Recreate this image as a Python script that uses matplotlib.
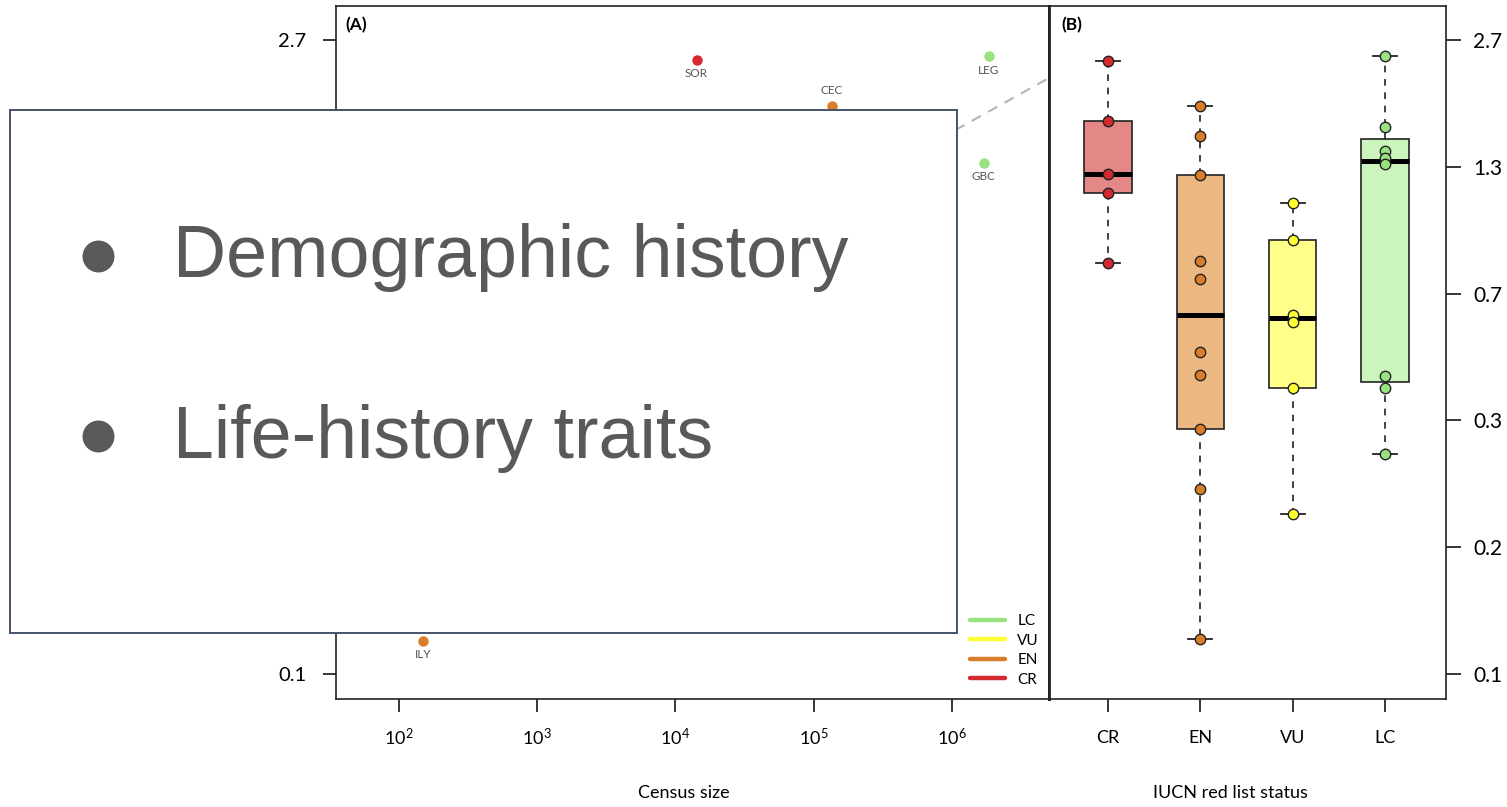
import numpy as np
import matplotlib.pyplot as plt
from matplotlib.lines import Line2D

plt.rcParams['font.family'] = ['Lato', 'DejaVu Sans']
plt.rcParams['mathtext.fontset'] = 'custom'
plt.rcParams['mathtext.rm'] = 'Lato'
plt.rcParams['mathtext.it'] = 'Lato:italic'

# panel A: species left visible around the overlay
species = ['SOR', 'CEC', 'LEG', 'GBC', 'ILY']
census = [1.42e4, 1.35e5, 1.85e6, 1.70e6, 149]
diversity = [2.42, 1.88, 2.47, 1.38, 0.101]
status = ['CR', 'EN', 'LC', 'LC', 'EN']
label_side = ['below', 'above', 'below', 'below', 'below']

# dashed fit: ln(diversity) = a + b * log10(census)
trend_a, trend_b = -2.03, 0.42

# panel B: values per IUCN category
categories = ['CR', 'EN', 'VU', 'LC']
cr_vals = [2.41, 1.73, 1.30, 1.17, 0.797]
en_vals = [1.88, 1.60, 1.29, 0.807, 0.730, 0.491, 0.432, 0.322, 0.232, 0.102]
vu_vals = [1.11, 0.905, 0.600, 0.579, 0.402, 0.2025]
lc_vals = [2.47, 1.68, 1.47, 1.42, 1.37, 0.431, 0.402, 0.281]

ytick_vals = 2.7 / 2.0 ** np.arange(6)
ytick_labels = ['2.7', '1.3', '0.7', '0.3', '0.2', '0.1']
xtick_vals = [1e2, 1e3, 1e4, 1e5, 1e6]
legend_order = ['LC', 'VU', 'EN', 'CR']

bullets = ['Demographic history', 'Life-history traits']

point_col = {'CR': '#d42a2f', 'EN': '#d97d2a', 'VU': '#ffff33', 'LC': '#99e27f'}
box_col = {'CR': '#e38787', 'EN': '#ebb882', 'VU': '#ffff8a', 'LC': '#ccf5be'}


def tukey_stats(vals):
    # same hinges / whiskers as R's boxplot, on the log scale
    x = np.sort(np.log(vals))
    n = len(x)
    n4 = np.floor((n + 3) / 2) / 2
    d = np.array([1, n4, (n + 1) / 2, n + 1 - n4, n]) - 1
    five = 0.5 * (x[np.floor(d).astype(int)] + x[np.ceil(d).astype(int)])
    iqr = five[3] - five[1]
    lo = x[x >= five[1] - 1.5 * iqr].min()
    hi = x[x <= five[3] + 1.5 * iqr].max()
    return dict(med=five[2], q1=five[1], q3=five[3], whislo=lo, whishi=hi, fliers=[])


W, H = 1507, 807
fig = plt.figure(figsize=(W / 100, H / 100), dpi=100)
fig.patch.set_facecolor('white')

ylim = (-2.61, 1.179)

# ---- panel A
axA = fig.add_axes([336 / W, 1 - 699 / H, 713 / W, 693 / H])
axA.set_xscale('log')
axA.set_xlim(34.9, 5.05e6)
axA.set_ylim(*ylim)

xs = np.logspace(1.4, 6.9, 60)
axA.plot(xs, trend_a + trend_b * np.log10(xs), color='#b4b4b4', lw=1.5,
         ls=(0, (5, 4)), zorder=1)

for sp, c, v, st, side in zip(species, census, diversity, status, label_side):
    axA.plot(c, np.log(v), 'o', ms=7.5, color=point_col[st], mec='none', zorder=3)
    dy = -10 if side == 'below' else 11
    axA.annotate(sp, (c, np.log(v)), xytext=(0, dy), textcoords='offset points',
                 ha='center', va='center', fontsize=8.5, color='#555555')

axA.set_xticks(xtick_vals)
axA.set_xticklabels([f'$10^{{{int(np.log10(t))}}}$' for t in xtick_vals])
axA.xaxis.set_minor_locator(plt.NullLocator())
axA.set_yticks(np.log(ytick_vals))
axA.set_yticklabels(ytick_labels)
axA.tick_params(axis='x', length=9, width=1.1, pad=11, labelsize=13)
axA.tick_params(axis='y', length=9.5, width=1.1, pad=12, labelsize=14.5)
axA.set_xlabel('Census size', fontsize=13, va='center')
axA.xaxis.set_label_coords((684 - 336) / 713, -(793 - 699) / 693)
axA.text(0.013, 0.972, '(A)', transform=axA.transAxes, fontsize=12.5,
         fontweight='bold', va='center', ha='left')

handles = [Line2D([], [], color=point_col[k], lw=3.2, solid_capstyle='round')
           for k in legend_order]
axA.legend(handles, legend_order, loc='lower left', frameon=False,
           bbox_to_anchor=((970 - 336) / 713, 0.018), borderpad=0,
           borderaxespad=0, handlelength=2.3, handletextpad=0.8,
           labelspacing=0.36, fontsize=11)

for s in axA.spines.values():
    s.set_linewidth(1.2)
    s.set_color('#222222')
axA.spines['right'].set_linewidth(2)

# ---- panel B
axB = fig.add_axes([1049 / W, 1 - 699 / H, 397 / W, 693 / H])
groups = [cr_vals, en_vals, vu_vals, lc_vals]
positions = np.arange(1, len(categories) + 1)
stats = [tukey_stats(g) for g in groups]
bp = axB.bxp(stats, positions=positions, widths=0.51, capwidths=0.26,
             patch_artist=True, showfliers=False,
             boxprops=dict(edgecolor='#222222', linewidth=1.2),
             whiskerprops=dict(color='#222222', linewidth=1.2, linestyle=(0, (4, 4))),
             capprops=dict(color='#222222', linewidth=1.3),
             medianprops=dict(color='black', linewidth=3.6, solid_capstyle='butt'))
for patch, cat in zip(bp['boxes'], categories):
    patch.set_facecolor(box_col[cat])

for pos, g, cat in zip(positions, groups, categories):
    axB.plot(np.full(len(g), pos), np.log(g), 'o', ms=7.5, mfc=point_col[cat],
             mec='#222222', mew=1, zorder=4)

axB.set_xlim(0.361, 4.661)
axB.set_ylim(*ylim)
axB.set_xticks(positions)
axB.set_xticklabels(categories)
axB.yaxis.tick_right()
axB.set_yticks(np.log(ytick_vals))
axB.set_yticklabels(ytick_labels)
axB.tick_params(axis='x', length=9, width=1.1, pad=13, labelsize=13)
axB.tick_params(axis='y', length=10.5, width=1.1, pad=9, labelsize=15)
axB.set_xlabel('IUCN red list status', fontsize=13, va='center')
axB.xaxis.set_label_coords((1230 - 1049) / 397, -(793 - 699) / 693)
axB.text(0.03, 0.972, '(B)', transform=axB.transAxes, fontsize=12.5,
         fontweight='bold', va='center', ha='left')
for s in axB.spines.values():
    s.set_linewidth(1.2)
    s.set_color('#222222')
axB.spines['left'].set_linewidth(2)

# ---- white overlay with the bullet list
ov = fig.add_axes([10 / W, 1 - 633 / H, 947 / W, 523 / H])
ov.set_xlim(0, 1)
ov.set_ylim(0, 1)
ov.set_xticks([])
ov.set_yticks([])
ov.set_facecolor('white')
for s in ov.spines.values():
    s.set_color('#44546a')
    s.set_linewidth(1.4)
for txt, yc, yb in zip(bullets, [0.7208, 0.3767], [0.6807, 0.3346]):
    ov.plot(0.0929, yc, 'o', ms=23, color='#595959', mec='none')
    ov.text(0.1721, yb, txt, fontsize=53, color='#595959', va='baseline',
            ha='left', family=['Liberation Sans', 'DejaVu Sans'])

fig.savefig('out.png', dpi=100)
